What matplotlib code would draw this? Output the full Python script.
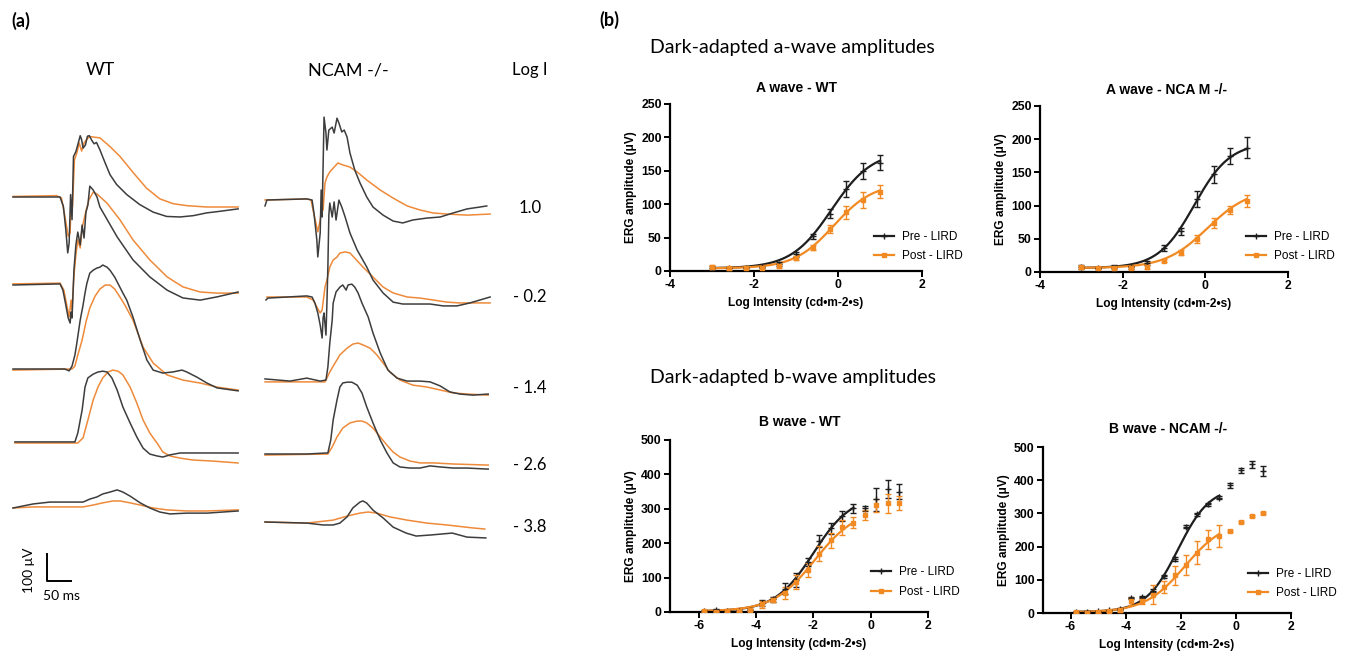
import numpy as np
import matplotlib
matplotlib.use("Agg")
import matplotlib.pyplot as plt
from matplotlib.lines import Line2D

plt.rcParams['font.family'] = ['Liberation Sans', 'DejaVu Sans']
plt.rcParams['axes.unicode_minus'] = False

W, H = 1347, 652
MS_PX = 50 / 24.0     # ms per pixel (scale bar)
UV_PX = 100 / 27.0    # uV per pixel (scale bar)

BLACK = '#1e1e1e'
ORANGE = '#f28a24'
TR_BLACK = '#3d3d3d'
TR_ORANGE = '#ee8a3a'

# ---------------- panel (b) data ----------------
a_x = [-3.0, -2.6, -2.2, -1.8, -1.4, -1.0, -0.6, -0.2, 0.2, 0.6, 1.0]
a_wt_pre = [5, 4, 4, 6, 10, 25, 52, 86, 123, 149, 162]
a_wt_pre_err = [3, 2, 2, 2, 3, 4, 4, 7, 12, 12, 11]
a_wt_post = [6, 4, 5, 5, 8, 19, 35, 63, 88, 107, 119]
a_wt_post_err = [3, 2, 2, 2, 3, 3, 4, 6, 10, 12, 10]
a_ko_pre = [7, 6, 6, 7, 14, 36, 61, 110, 147, 175, 187]
a_ko_pre_err = [3, 2, 5, 2, 3, 5, 5, 12, 13, 12, 16]
a_ko_post = [7, 6, 6, 6, 7, 17, 29, 50, 74, 94, 107]
a_ko_post_err = [2, 2, 2, 2, 3, 2, 4, 6, 7, 6, 9]

b_x = [-5.8, -5.4, -5.0, -4.6, -4.2, -3.8, -3.4, -3.0, -2.6, -2.2,
       -1.8, -1.4, -1.0, -0.6, -0.2, 0.2, 0.6, 1.0]
b_wt_pre = [3, 5, 3, 3, 7, 26, 37, 68, 94, 146, 207, 243, 280, 301, 301, 328, 357, 350]
b_wt_pre_err = [2, 3, 2, 2, 3, 8, 7, 17, 20, 12, 18, 15, 15, 12, 8, 33, 27, 22]
b_wt_post = [2, 1, 3, 2, 7, 22, 36, 56, 87, 123, 170, 209, 246, 260, 282, 310, 316, 316]
b_wt_post_err = [2, 2, 2, 2, 3, 10, 6, 18, 20, 20, 22, 22, 22, 15, 15, 18, 28, 20]
b_ko_pre = [4, 4, 5, 8, 12, 46, 48, 67, 110, 163, 260, 297, 327, 347, 385, 430, 448, 428]
b_ko_pre_err = [2, 2, 2, 2, 2, 3, 3, 4, 5, 5, 5, 4, 4, 4, 8, 8, 10, 15]
b_ko_post = [2, 0, 3, 5, 8, 35, 35, 55, 77, 113, 145, 182, 222, 232, 247, 274, 292, 300]
b_ko_post_err = [2, 2, 2, 2, 4, 10, 8, 28, 18, 30, 30, 35, 28, 32, 3, 3, 3, 3]

# sigmoid fits: bottom, top, logEC50, hill slope
fit_a_wt_pre = [4, 180, -0.15, 0.9]
fit_a_wt_post = [4, 132, -0.1, 0.92]
fit_a_ko_pre = [6, 195, -0.27, 1.0]
fit_a_ko_post = [6, 126, 0.05, 0.85]
fit_b_wt_pre = [2, 340, -2.0, 0.65]
fit_b_wt_post = [2, 300, -1.95, 0.6]
fit_b_ko_pre = [3, 380, -2.1, 0.75]
fit_b_ko_post = [2, 280, -1.85, 0.6]

# ---------------- panel (a) traces: (ms, uV) ----------------
wt_pre_1 = [(0, 0), (98, 0), (105, -35), (110, -121), (114, -207), (117, -170), (120, 9), (123, -84),
            (126, 150), (131, 168), (136, 200), (140, 227), (143, 212), (146, 181), (151, 193), (155, 225),
            (159, 227), (164, 210), (169, 197), (174, 202), (181, 175), (192, 126), (202, 83), (216, 46),
            (237, 9), (264, -28), (292, -56), (320, -72), (348, -74), (376, -69), (403, -59), (431, -53), (469, -44)]
wt_post_1 = [(0, 2), (91, 5), (101, -4), (108, -71), (115, -145), (119, -133), (121, -10), (124, -35),
             (128, 138), (133, 163), (138, 200), (143, 170), (148, 200), (153, 212), (159, 224), (167, 222),
             (181, 219), (202, 187), (223, 150), (251, 89), (278, 33), (306, -7), (334, -25), (362, -32),
             (403, -37), (469, -37)]
wt_pre_2 = [(0, 0), (98, 4), (104, -19), (110, -74), (115, -122), (119, -141), (121, -100), (123, -122),
            (127, 56), (131, 148), (135, 196), (140, 148), (144, 222), (148, 174), (152, 270), (156, 296),
            (160, 366), (167, 352), (175, 326), (181, 289), (217, 178), (250, 93), (285, 30), (321, -19),
            (354, -48), (390, -56), (425, -44), (469, -26)]
wt_post_2 = [(0, 4), (98, 7), (106, -19), (112, -74), (117, -118), (121, -56), (123, -93), (127, 37),
             (131, 111), (135, 167), (140, 137), (144, 211), (150, 259), (158, 315), (167, 344), (175, 337),
             (196, 303), (223, 241), (250, 167), (285, 93), (321, 30), (354, -7), (390, -26), (425, -30), (469, -30)]
wt_pre_3 = [(0, 0), (108, 0), (117, -7), (123, 11), (129, 52), (133, 96), (140, 181), (146, 237),
            (150, 281), (154, 318), (160, 355), (167, 366), (175, 374), (181, 377), (187, 385), (196, 377),
            (202, 366), (212, 340), (229, 281), (237, 255), (250, 192), (265, 107), (279, 33), (292, -4),
            (312, -15), (333, -11), (352, -4), (362, -11), (383, -30), (404, -52), (425, -70), (469, -81)]
wt_post_3 = [(0, -4), (123, 0), (129, 11), (135, 52), (144, 107), (152, 174), (160, 226), (171, 270),
             (181, 296), (192, 311), (202, 311), (212, 296), (223, 266), (233, 237), (250, 181), (271, 81),
             (292, 22), (321, -22), (354, -41), (390, -52), (425, -67), (469, -78)]
wt_pre_4 = [(4, 4), (129, 4), (135, 37), (144, 122), (150, 207), (156, 241), (167, 255), (177, 263),
            (187, 266), (196, 263), (206, 241), (217, 196), (229, 133), (244, 74), (258, 22), (271, -19),
            (285, -41), (300, -48), (312, -52), (327, -44), (348, -37), (390, -37), (469, -37)]
wt_post_4 = [(4, 0), (135, 0), (146, 19), (156, 85), (167, 159), (177, 207), (187, 241), (198, 263),
             (208, 270), (219, 266), (229, 252), (244, 207), (258, 148), (271, 85), (285, 37), (300, 0),
             (312, -33), (327, -48), (348, -56), (375, -63), (417, -67), (469, -74)]
wt_pre_5 = [(0, 0), (42, 15), (77, 22), (112, 22), (146, 22), (160, 33), (175, 41), (187, 52), (202, 59),
            (217, 67), (229, 59), (244, 44), (265, 19), (285, 0), (306, -15), (327, -22), (362, -19),
            (404, -19), (469, -11)]
wt_post_5 = [(0, 0), (42, 4), (112, 4), (146, 4), (167, 11), (187, 19), (208, 26), (223, 26), (244, 19),
             (265, 11), (292, 0), (321, -7), (362, -11), (404, -11), (469, -7)]

ko_pre_1 = [(0, -22), (4, 0), (87, 4), (98, 0), (102, -48), (108, -148), (110, -211), (115, -122),
            (117, 37), (119, -63), (123, 307), (127, 248), (129, 185), (133, 259), (140, 270), (144, 248),
            (150, 303), (154, 285), (160, 252), (165, 259), (171, 233), (177, 174), (187, 111), (198, 63),
            (212, 11), (225, -26), (246, -56), (267, -78), (287, -85), (308, -74), (337, -67), (365, -63),
            (392, -48), (421, -33), (448, -26), (462, -22)]
ko_post_1 = [(0, 0), (87, 4), (96, 0), (100, -37), (106, -85), (110, -118), (115, -74), (119, -11),
             (121, -37), (125, 63), (129, 85), (135, 104), (142, 118), (152, 137), (162, 130), (177, 122),
             (192, 104), (212, 74), (240, 37), (267, 7), (296, -22), (323, -37), (350, -48), (379, -52),
             (421, -56), (469, -52)]
ko_pre_2 = [(2, -11), (6, -4), (87, 4), (98, 0), (104, -22), (110, -59), (115, -104), (119, -152),
            (121, -78), (123, -59), (127, -141), (129, -22), (131, 111), (133, 303), (135, 348), (140, 296),
            (144, 352), (148, 285), (154, 359), (160, 333), (167, 296), (177, 237), (192, 174), (212, 111),
            (225, 63), (246, 15), (267, -19), (287, -26), (317, -26), (344, -26), (371, -33), (400, -33),
            (427, -22), (448, -11), (469, 0)]
ko_post_2 = [(4, 0), (87, 0), (100, -11), (108, -37), (115, -59), (119, -48), (125, 37), (129, 63),
             (135, 111), (142, 137), (150, 148), (156, 163), (167, 167), (177, 163), (187, 144), (204, 111),
             (225, 74), (246, 37), (267, 15), (296, 0), (323, -4), (350, -11), (379, -19), (406, -22),
             (448, -22), (469, -22)]
ko_pre_3 = [(0, 4), (52, -4), (87, 7), (115, -4), (127, 0), (131, 48), (135, 137), (140, 222), (142, 285),
            (148, 326), (156, 344), (162, 352), (169, 333), (173, 352), (181, 355), (187, 344), (194, 322),
            (202, 285), (215, 233), (225, 174), (240, 100), (256, 37), (275, 7), (296, -4), (323, -4),
            (344, -7), (365, -22), (385, -44), (406, -52), (433, -56), (465, -52)]
ko_post_3 = [(0, -7), (87, -7), (125, -7), (129, 7), (135, 30), (146, 63), (156, 93), (171, 118),
             (183, 133), (194, 137), (204, 130), (219, 118), (233, 93), (246, 63), (260, 30), (281, 0),
             (308, -19), (337, -26), (365, -37), (392, -48), (421, -52), (465, -56)]
ko_pre_4 = [(0, 0), (87, 0), (131, 4), (137, 52), (142, 126), (150, 200), (156, 248), (162, 263),
            (171, 266), (181, 266), (192, 255), (202, 226), (212, 174), (225, 115), (240, 52), (254, 4),
            (267, -33), (281, -48), (302, -52), (323, -52), (344, -44), (365, -48), (392, -52), (421, -52),
            (465, -56)]
ko_post_4 = [(0, -4), (131, 0), (140, 26), (150, 63), (162, 96), (177, 115), (192, 122), (202, 122),
             (212, 115), (225, 96), (240, 63), (254, 33), (267, 7), (281, -11), (302, -26), (323, -33),
             (350, -33), (392, -37), (465, -41)]
ko_pre_5 = [(0, 0), (87, -4), (121, -11), (142, -11), (156, -4), (171, 19), (183, 52), (198, 74),
            (204, 78), (212, 70), (225, 44), (246, 15), (267, -19), (294, -41), (315, -52), (346, -48),
            (390, -41), (421, -56), (460, -59)]
ko_post_5 = [(0, 0), (87, -4), (142, 7), (171, 22), (198, 33), (215, 37), (233, 33), (260, 19), (296, 7),
             (337, -4), (379, -11), (433, -22), (458, -26)]

log_i_labels = ['1.0', '- 0.2', '- 1.4', '- 2.6', '- 3.8']

wt_traces = [(wt_pre_1, wt_post_1), (wt_pre_2, wt_post_2), (wt_pre_3, wt_post_3),
             (wt_pre_4, wt_post_4), (wt_pre_5, wt_post_5)]
ko_traces = [(ko_pre_1, ko_post_1), (ko_pre_2, ko_post_2), (ko_pre_3, ko_post_3),
             (ko_pre_4, ko_post_4), (ko_pre_5, ko_post_5)]

# layout (pixels)
wt_rows_px = [197, 285, 369, 443, 508]
ko_rows_px = [200, 297, 380, 454, 522]
label_rows_px = [208, 297, 388, 465, 527]


def fx(px):
    return px / W


def fy(py):
    return 1 - py / H


def rect(l, t, r, b):
    return [l / W, 1 - b / H, (r - l) / W, (b - t) / H]


def sigmoid(x, p):
    bottom, top, ec, hill = p
    return bottom + (top - bottom) / (1 + 10 ** ((ec - x) * hill))


fig = plt.figure(figsize=(W / 100, H / 100), dpi=100)

# ---------------- panel (a) ----------------
ax_a = fig.add_axes([0, 0, 560 / W, 1])
ax_a.set_xlim(-13 * MS_PX, (560 - 13) * MS_PX)
ax_a.set_ylim(-H * UV_PX, 0)
ax_a.axis('off')

for col_px, rows, traces in [(13, wt_rows_px, wt_traces), (265, ko_rows_px, ko_traces)]:
    x_off = (col_px - 13) * MS_PX
    for base, (pre, post) in zip(rows, traces):
        y_off = -base * UV_PX
        t, v = zip(*post)
        ax_a.plot(np.array(t) + x_off, np.array(v) + y_off, color=TR_ORANGE, lw=1.1)
        t, v = zip(*pre)
        ax_a.plot(np.array(t) + x_off, np.array(v) + y_off, color=TR_BLACK, lw=1.1)

# scale bar
sb_x = (46.7 - 13) * MS_PX
sb_y = -581 * UV_PX
ax_a.plot([sb_x, sb_x, sb_x + 50], [sb_y + 100, sb_y, sb_y], color='black', lw=1.4)

afont = ['Lato', 'DejaVu Sans']
fig.text(fx(11), fy(21), '(a)', family=afont, fontsize=13, fontweight='bold', va='center')
fig.text(fx(100), fy(70), 'WT', family=afont, fontsize=13, ha='center', va='center')
fig.text(fx(348), fy(70), 'NCAM -/-', family=afont, fontsize=13, ha='center', va='center')
fig.text(fx(530), fy(70), 'Log I', family=afont, fontsize=12, ha='center', va='center')
for lab, yy in zip(log_i_labels, label_rows_px):
    fig.text(fx(530), fy(yy), lab, family=afont, fontsize=12, ha='center', va='center')
fig.text(fx(29), fy(570), '100 μV', family=afont, fontsize=10, rotation=90, ha='center', va='center')
fig.text(fx(61), fy(596), '50 ms', family=afont, fontsize=10, ha='center', va='center')

# ---------------- panel (b) ----------------
fig.text(fx(599), fy(20), '(b)', family=afont, fontsize=13, fontweight='bold', va='center')
fig.text(fx(650), fy(48), 'Dark-adapted a-wave amplitudes', family=afont, fontsize=14, va='center')
fig.text(fx(650), fy(378), 'Dark-adapted b-wave amplitudes', family=afont, fontsize=14, va='center')

panels = [
    (rect(670, 104, 922, 271), 'A wave - WT', (796, 88), a_x,
     (a_wt_pre, a_wt_pre_err, fit_a_wt_pre), (a_wt_post, a_wt_post_err, fit_a_wt_post),
     (-4, 2), [-4, -2, 0, 2], 250, (-3, 1), (874, 246.5)),
    (rect(1040, 106, 1288, 272), 'A wave - NCA M -/-', (1166, 90), a_x,
     (a_ko_pre, a_ko_pre_err, fit_a_ko_pre), (a_ko_post, a_ko_post_err, fit_a_ko_post),
     (-4, 2), [-4, -2, 0, 2], 250, (-3, 1), (1246, 246.5)),
    (rect(670, 440, 928, 612), 'B wave - WT', (800, 422), b_x,
     (b_wt_pre, b_wt_pre_err, fit_b_wt_pre), (b_wt_post, b_wt_post_err, fit_b_wt_post),
     (-7, 2), [-6, -4, -2, 0, 2], 500, (-5.8, -0.6), (871, 582)),
    (rect(1043, 447, 1291, 613), 'B wave - NCAM -/-', (1168, 429), b_x,
     (b_ko_pre, b_ko_pre_err, fit_b_ko_pre), (b_ko_post, b_ko_post_err, fit_b_ko_post),
     (-7, 2), [-6, -4, -2, 0, 2], 500, (-5.8, -0.6), (1248, 583.5)),
]

for pos, title, tpos, xs, pre, post, xlim, xt, ymax, frange, lpos in panels:
    ax = fig.add_axes(pos)
    xx = np.linspace(frange[0], frange[1], 200)
    for (vals, err, fit), col, mk, ms in [(pre, BLACK, '+', 4), (post, ORANGE, 's', 3)]:
        ax.plot(xx, sigmoid(xx, fit), color=col, lw=1.6, zorder=2)
        ax.errorbar(xs, vals, yerr=err, fmt=mk, color=col, ms=ms, mew=1.0,
                    elinewidth=1.0, capsize=2.2, capthick=1.0, zorder=3)
    ax.set_xlim(*xlim)
    ax.set_ylim(0, ymax)
    ax.set_xticks(xt)
    ax.set_yticks(np.arange(0, ymax + 1, ymax // 5))
    for s in ['top', 'right']:
        ax.spines[s].set_visible(False)
    for s in ['left', 'bottom']:
        ax.spines[s].set_linewidth(1.6)
    ax.tick_params(direction='out', length=4, width=1.4, labelsize=8.8, pad=2)
    for lab in ax.get_xticklabels() + ax.get_yticklabels():
        lab.set_fontweight('bold')
    ax.set_xlabel('Log Intensity (cd•m-2•s)', fontsize=8.6, fontweight='bold', labelpad=4)
    ax.set_ylabel('ERG amplitude (μV)', fontsize=8.6, fontweight='bold', labelpad=3)
    ax.patch.set_alpha(0)
    fig.text(fx(tpos[0]), fy(tpos[1]), title, fontsize=10, fontweight='bold', ha='center', va='center')
    handles = [Line2D([], [], color=BLACK, marker='+', ms=4, lw=1.6),
               Line2D([], [], color=ORANGE, marker='s', ms=3, lw=1.6)]
    ax.legend(handles, ['Pre - LIRD', 'Post - LIRD'], loc='center left',
              bbox_to_anchor=(fx(lpos[0]), fy(lpos[1])), bbox_transform=fig.transFigure,
              frameon=False, fontsize=8.5, handlelength=1.7, handletextpad=0.7,
              labelspacing=0.65, borderpad=0, borderaxespad=0)

fig.savefig('out.png', dpi=100)
